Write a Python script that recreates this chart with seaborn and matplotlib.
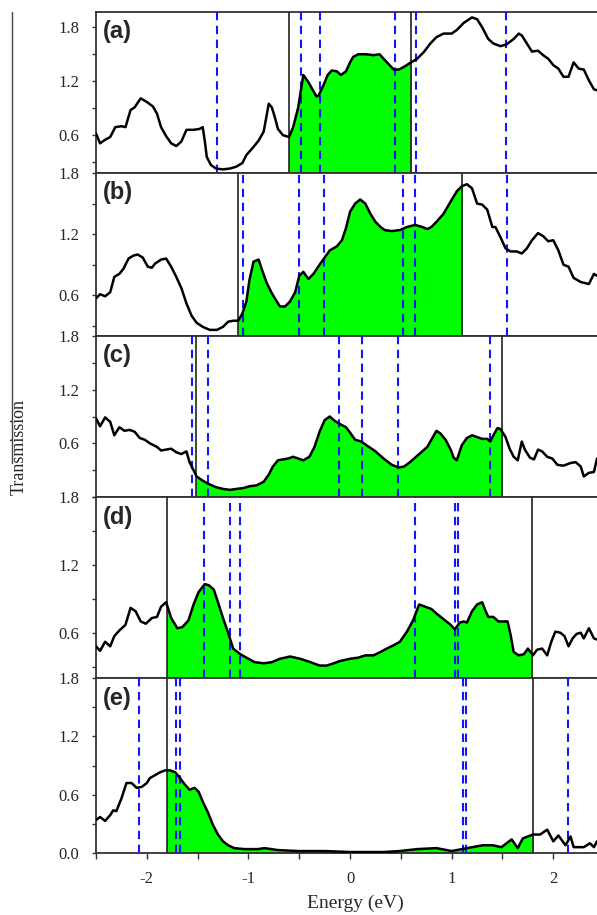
import numpy as np
import pandas as pd
import seaborn as sns
import matplotlib.pyplot as plt
from matplotlib.patches import Rectangle
from matplotlib.lines import Line2D
from matplotlib.ticker import FixedLocator, MultipleLocator, FormatStrFormatter

# ---- data (energy in eV, transmission) ----
E_a = [-2.50, -2.46, -2.41, -2.36, -2.31, -2.25, -2.21, -2.16, -2.12, -2.06,
       -2.00, -1.94, -1.90, -1.86, -1.81, -1.76, -1.71, -1.66, -1.61, -1.54,
       -1.48, -1.45, -1.43, -1.41, -1.37, -1.32, -1.25, -1.18, -1.12, -1.06,
       -1.02, -0.95, -0.90, -0.85, -0.80, -0.77, -0.74, -0.71, -0.66, -0.60,
       -0.56, -0.51, -0.46, -0.41, -0.37, -0.33, -0.31, -0.26, -0.22, -0.18,
       -0.13, -0.09, -0.04, 0.00, 0.03, 0.08, 0.16, 0.23, 0.29, 0.33,
       0.38, 0.43, 0.48, 0.53, 0.60, 0.66, 0.73, 0.79, 0.85, 0.92,
       1.00, 1.05, 1.12, 1.20, 1.25, 1.30, 1.36, 1.41, 1.48, 1.54,
       1.61, 1.66, 1.69, 1.74, 1.79, 1.85, 1.90, 1.95, 2.00, 2.05,
       2.10, 2.15, 2.20, 2.25, 2.30, 2.35, 2.40, 2.43]
T_a = [0.62, 0.51, 0.55, 0.58, 0.69, 0.70, 0.69, 0.88, 0.91, 1.01,
       0.97, 0.92, 0.84, 0.69, 0.59, 0.51, 0.48, 0.53, 0.66, 0.66,
       0.67, 0.69, 0.54, 0.36, 0.27, 0.23, 0.22, 0.23, 0.25, 0.29,
       0.38, 0.47, 0.54, 0.64, 0.95, 0.91, 0.80, 0.67, 0.60, 0.58,
       0.69, 0.91, 1.27, 1.19, 1.11, 1.03, 1.04, 1.16, 1.27, 1.32,
       1.31, 1.27, 1.31, 1.41, 1.47, 1.50, 1.50, 1.49, 1.50, 1.45,
       1.39, 1.33, 1.33, 1.36, 1.41, 1.45, 1.53, 1.62, 1.69, 1.73,
       1.73, 1.77, 1.85, 1.91, 1.89, 1.80, 1.67, 1.62, 1.59, 1.61,
       1.67, 1.73, 1.71, 1.62, 1.53, 1.54, 1.49, 1.45, 1.38, 1.34,
       1.25, 1.25, 1.41, 1.34, 1.33, 1.21, 1.11, 1.10]

E_b = [-2.50, -2.46, -2.41, -2.36, -2.32, -2.27, -2.23, -2.18, -2.13, -2.09,
       -2.04, -1.99, -1.95, -1.92, -1.86, -1.81, -1.76, -1.71, -1.66, -1.61,
       -1.56, -1.51, -1.45, -1.38, -1.31, -1.25, -1.20, -1.15, -1.10, -1.06,
       -1.02, -0.99, -0.95, -0.90, -0.87, -0.82, -0.77, -0.74, -0.69, -0.64,
       -0.59, -0.54, -0.50, -0.46, -0.41, -0.36, -0.30, -0.25, -0.20, -0.13,
       -0.08, -0.04, 0.00, 0.05, 0.10, 0.15, 0.20, 0.25, 0.30, 0.34,
       0.41, 0.49, 0.56, 0.64, 0.71, 0.76, 0.80, 0.85, 0.92, 0.99,
       1.05, 1.10, 1.15, 1.20, 1.25, 1.30, 1.35, 1.40, 1.43, 1.48,
       1.53, 1.58, 1.64, 1.69, 1.74, 1.79, 1.85, 1.90, 1.95, 2.00,
       2.05, 2.10, 2.15, 2.20, 2.27, 2.35, 2.40, 2.43]
T_b = [0.57, 0.61, 0.59, 0.63, 0.78, 0.81, 0.86, 0.96, 0.99, 1.00,
       0.97, 0.88, 0.87, 0.91, 0.95, 0.96, 0.88, 0.78, 0.67, 0.52,
       0.40, 0.33, 0.29, 0.26, 0.26, 0.29, 0.34, 0.35, 0.35, 0.42,
       0.54, 0.75, 0.93, 0.95, 0.86, 0.72, 0.62, 0.57, 0.49, 0.49,
       0.54, 0.63, 0.79, 0.83, 0.76, 0.81, 0.90, 0.97, 1.04, 1.08,
       1.14, 1.26, 1.42, 1.50, 1.54, 1.50, 1.40, 1.32, 1.27, 1.24,
       1.23, 1.24, 1.27, 1.29, 1.27, 1.25, 1.27, 1.32, 1.40, 1.52,
       1.62, 1.67, 1.69, 1.65, 1.50, 1.49, 1.44, 1.27, 1.27, 1.17,
       1.06, 1.03, 1.03, 1.01, 1.06, 1.14, 1.21, 1.18, 1.13, 1.14,
       1.04, 0.90, 0.88, 0.77, 0.73, 0.71, 0.81, 0.79]

E_c = [-2.50, -2.46, -2.41, -2.36, -2.32, -2.27, -2.22, -2.17, -2.12, -2.07,
       -2.02, -1.97, -1.90, -1.86, -1.81, -1.76, -1.71, -1.66, -1.61, -1.58,
       -1.54, -1.51, -1.46, -1.40, -1.32, -1.25, -1.18, -1.12, -1.05, -0.99,
       -0.92, -0.85, -0.80, -0.76, -0.71, -0.66, -0.61, -0.56, -0.51, -0.46,
       -0.40, -0.35, -0.30, -0.25, -0.20, -0.15, -0.09, -0.04, 0.00, 0.05,
       0.11, 0.16, 0.25, 0.33, 0.41, 0.48, 0.53, 0.59, 0.67, 0.76,
       0.80, 0.85, 0.89, 0.94, 0.99, 1.02, 1.05, 1.10, 1.15, 1.20,
       1.25, 1.30, 1.35, 1.38, 1.41, 1.45, 1.48, 1.53, 1.57, 1.61,
       1.65, 1.69, 1.72, 1.77, 1.81, 1.85, 1.89, 1.94, 1.99, 2.04,
       2.10, 2.17, 2.22, 2.27, 2.30, 2.35, 2.40, 2.43]
T_c = [0.88, 0.79, 0.89, 0.84, 0.69, 0.78, 0.74, 0.75, 0.73, 0.66,
       0.64, 0.60, 0.56, 0.52, 0.53, 0.54, 0.50, 0.48, 0.51, 0.39,
       0.30, 0.23, 0.19, 0.15, 0.11, 0.09, 0.08, 0.09, 0.10, 0.12,
       0.13, 0.17, 0.25, 0.34, 0.41, 0.42, 0.43, 0.45, 0.43, 0.41,
       0.45, 0.56, 0.73, 0.86, 0.90, 0.85, 0.81, 0.78, 0.72, 0.64,
       0.62, 0.58, 0.51, 0.43, 0.36, 0.33, 0.34, 0.39, 0.47, 0.56,
       0.64, 0.74, 0.71, 0.64, 0.53, 0.44, 0.41, 0.58, 0.66, 0.69,
       0.67, 0.65, 0.65, 0.62, 0.69, 0.77, 0.76, 0.67, 0.54, 0.45,
       0.41, 0.62, 0.53, 0.44, 0.42, 0.53, 0.51, 0.45, 0.43, 0.36,
       0.35, 0.38, 0.39, 0.34, 0.23, 0.27, 0.28, 0.43]

E_d = [-2.50, -2.46, -2.41, -2.36, -2.32, -2.27, -2.21, -2.16, -2.11, -2.06,
       -2.01, -1.95, -1.90, -1.86, -1.81, -1.76, -1.70, -1.65, -1.59, -1.54,
       -1.49, -1.43, -1.39, -1.34, -1.30, -1.25, -1.20, -1.15, -1.08, -1.02,
       -0.94, -0.85, -0.77, -0.69, -0.59, -0.49, -0.39, -0.30, -0.23, -0.16,
       -0.10, 0.00, 0.08, 0.15, 0.23, 0.30, 0.36, 0.43, 0.49, 0.56,
       0.62, 0.68, 0.74, 0.80, 0.85, 0.92, 0.99, 1.03, 1.08, 1.12,
       1.15, 1.20, 1.25, 1.30, 1.33, 1.36, 1.41, 1.46, 1.51, 1.55,
       1.58, 1.61, 1.66, 1.71, 1.75, 1.80, 1.84, 1.89, 1.94, 1.98,
       2.02, 2.07, 2.11, 2.15, 2.19, 2.23, 2.27, 2.30, 2.35, 2.40,
       2.43]
T_d = [0.48, 0.44, 0.52, 0.48, 0.57, 0.62, 0.67, 0.82, 0.79, 0.70,
       0.68, 0.73, 0.74, 0.83, 0.87, 0.73, 0.64, 0.65, 0.71, 0.85,
       0.96, 1.03, 1.02, 0.98, 0.87, 0.73, 0.60, 0.46, 0.41, 0.38,
       0.34, 0.33, 0.34, 0.37, 0.39, 0.37, 0.34, 0.31, 0.31, 0.33,
       0.35, 0.37, 0.38, 0.40, 0.40, 0.43, 0.46, 0.49, 0.52, 0.61,
       0.71, 0.85, 0.83, 0.81, 0.77, 0.72, 0.67, 0.63, 0.69, 0.70,
       0.69, 0.79, 0.85, 0.87, 0.80, 0.74, 0.74, 0.70, 0.70, 0.70,
       0.58, 0.43, 0.40, 0.41, 0.46, 0.40, 0.45, 0.46, 0.40, 0.52,
       0.61, 0.60, 0.57, 0.48, 0.55, 0.59, 0.60, 0.55, 0.64, 0.55,
       0.54]

E_e = [-2.50, -2.46, -2.41, -2.36, -2.33, -2.30, -2.25, -2.20, -2.15, -2.10,
       -2.05, -2.00, -1.97, -1.92, -1.87, -1.82, -1.77, -1.72, -1.68, -1.63,
       -1.58, -1.53, -1.49, -1.45, -1.40, -1.35, -1.30, -1.25, -1.20, -1.14,
       -1.04, -0.91, -0.84, -0.71, -0.51, -0.25, 0.00, 0.33, 0.49, 0.66,
       0.85, 1.00, 1.15, 1.31, 1.40, 1.49, 1.59, 1.65, 1.70, 1.80,
       1.87, 1.94, 2.00, 2.05, 2.12, 2.17, 2.20, 2.30, 2.36, 2.40,
       2.43]
T_e = [0.34, 0.37, 0.33, 0.39, 0.44, 0.43, 0.56, 0.72, 0.72, 0.67,
       0.68, 0.72, 0.77, 0.80, 0.83, 0.85, 0.85, 0.83, 0.78, 0.71,
       0.65, 0.67, 0.63, 0.53, 0.42, 0.29, 0.19, 0.12, 0.08, 0.05,
       0.04, 0.04, 0.05, 0.03, 0.02, 0.02, 0.01, 0.01, 0.02, 0.04,
       0.05, 0.02, 0.05, 0.08, 0.08, 0.06, 0.14, 0.05, 0.15, 0.19,
       0.19, 0.24, 0.12, 0.18, 0.08, 0.17, 0.06, 0.06, 0.10, 0.06,
       0.12]

# solid black lines (window edges) and blue dashed lines (levels)
edges = [(-0.60, 0.60), (-1.10, 1.10), (-1.52, 1.50), (-1.80, 1.79), (-1.80, 1.80)]
levels = [[-1.31, -0.48, -0.30, 0.44, 0.65, 1.53],
          [-1.05, -0.50, -0.26, 0.52, 0.64, 1.54],
          [-1.56, -1.40, -0.11, 0.12, 0.47, 1.38],
          [-1.44, -1.18, -1.08, 0.64, 1.03, 1.06],
          [-2.08, -1.71, -1.67, 1.11, 1.14, 2.14]]
tags = ['(a)', '(b)', '(c)', '(d)', '(e)']
energies = [E_a, E_b, E_c, E_d, E_e]
trans = [T_a, T_b, T_c, T_d, T_e]
ylims = [(0.18, 1.97), (0.2, 1.8), (0.0, 1.8), (0.2, 1.8), (0.0, 1.8)]

sns.set_style('ticks')
plt.rcParams['font.family'] = ['Liberation Serif', 'DejaVu Serif']
plt.rcParams['axes.unicode_minus'] = False
plt.rcParams['lines.scale_dashes'] = False

W, H = 597, 915
fig = plt.figure(figsize=(W / 100, H / 100), dpi=100)

# panel boxes in pixels (top, bottom)
boxes = [(12, 173), (173, 336), (336, 497), (497, 678), (678, 853)]
left = 96 / W

for i, (top, bot) in enumerate(boxes):
    ax = fig.add_axes([left, 1 - bot / H, 1 - left, (bot - top) / H])
    df = pd.DataFrame({'Energy': energies[i], 'T': trans[i]})
    lo, hi = edges[i]
    y0, y1 = ylims[i]

    # green window: fill under the curve, clipped between the two edges
    fill = ax.fill_between(df['Energy'], df['T'], y0 - 1, color='#00ff00', lw=0, zorder=1)
    fill.set_clip_path(Rectangle((lo, y0), hi - lo, y1 - y0, transform=ax.transData))

    for x in levels[i]:
        ax.axvline(x, color='#1414ff', lw=1.5, dashes=(6, 4), zorder=3)
    for x in edges[i]:
        ax.axvline(x, color='#222222', lw=1.2, zorder=4)

    sns.lineplot(data=df, x='Energy', y='T', ax=ax, color='black', lw=1.8, zorder=5)

    ax.set_xlim(-2.5, 2.43)
    ax.set_ylim(y0, y1)
    ax.set_xlabel('')
    ax.set_ylabel('')

    major = [0.0, 0.6, 1.2, 1.8] if i == 4 else [0.6, 1.2, 1.8]
    ax.yaxis.set_major_locator(FixedLocator(major))
    ax.yaxis.set_minor_locator(MultipleLocator(0.3))
    ax.yaxis.set_major_formatter(FormatStrFormatter('%.1f'))
    ax.tick_params(axis='y', which='both', direction='out', length=3, width=1,
                   color='#333333', labelsize=12, pad=9)

    if i < 4:
        ax.tick_params(axis='x', which='both', bottom=False, labelbottom=False)
    else:
        ax.xaxis.set_major_locator(MultipleLocator(1))
        ax.xaxis.set_minor_locator(MultipleLocator(0.5))
        ax.tick_params(axis='x', which='both', direction='out', length=4, width=1,
                       color='#333333', labelsize=12, pad=9)

    ax.spines['right'].set_visible(False)
    for s in ['left', 'top', 'bottom']:
        ax.spines[s].set_color('#333333')
        ax.spines[s].set_linewidth(1.3)

    ax.text(0.014, 0.95, tags[i], transform=ax.transAxes, fontsize=17,
            fontweight='bold', family=['Liberation Sans', 'DejaVu Sans'],
            va='top', ha='left', zorder=6)

fig.text(19 / W, 1 - 447 / H, 'Transmission', rotation=90, ha='center',
         va='center', fontsize=13)
fig.text(355 / W, 1 - 903 / H, 'Energy (eV)', ha='center', va='center', fontsize=14)
fig.add_artist(Line2D([12 / W, 12 / W], [1 - 12 / H, 1 - 463 / H],
                      color='#444444', lw=1))

fig.savefig('out.png', dpi=100)
